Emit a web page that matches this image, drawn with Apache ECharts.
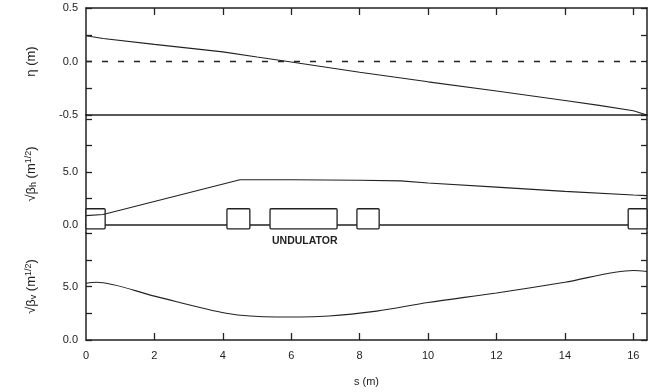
<!DOCTYPE html>
<html>
<head>
<meta charset="utf-8">
<script src="https://cdn.jsdelivr.net/npm/echarts@6/dist/echarts.min.js"></script>
<style>
  html, body { margin: 0; padding: 0; background: #fff; }
  #chart { width: 654px; height: 392px; }
</style>
</head>
<body>
<div id="chart"></div>
<script>
// dispersion eta (m)
const etaS = [0, 0.5, 2, 4, 5, 6, 8, 10, 12, 14, 15, 16, 16.4]
const etaV = [0.24, 0.215, 0.16, 0.09, 0.042, -0.005, -0.1, -0.19, -0.275, -0.365, -0.41, -0.46, -0.5]
// sqrt(beta_h)
const bhS = [0, 0.5, 4.5, 6, 8, 9.2, 10, 12, 14, 16, 16.4]
const bhV = [0.85, 0.95, 4.25, 4.25, 4.2, 4.15, 3.95, 3.55, 3.15, 2.8, 2.75]
// sqrt(beta_v)
const bvS = [0, 0.3, 2, 4.1, 5.6, 7.1, 8.5, 10, 12, 14, 16, 16.4]
const bvV = [5.3, 5.4, 4.1, 2.5, 2.15, 2.25, 2.7, 3.5, 4.4, 5.4, 6.5, 6.4]
// lattice elements (start, end in s) and box extent in the middle panel
const elemStart = [0, 4.12, 5.38, 7.92, 15.85]
const elemEnd = [0.56, 4.79, 7.34, 8.57, 16.4]
const boxLow = -0.4
const boxHigh = 1.5
// tick values
const etaTicks = [-0.5, -0.25, 0, 0.25, 0.5]
const etaLabels = [-0.5, 0, 0.5]
const betaTicks = [0, 2.5, 5, 7.5, 10]
const betaLabels = [0, 5]
const sLabels = [0, 2, 4, 6, 8, 10, 12, 14, 16]

const ink = '#222'
const font = 'Liberation Sans, Arial, sans-serif'
const pair = (xs, ys) => xs.map((x, i) => [x, ys[i]])

const rich = {
  n: { fontSize: 13, fontFamily: font, color: ink },
  sub: { fontSize: 9, fontFamily: font, color: ink, verticalAlign: 'bottom', padding: [5, 0, 0, 0] },
  sup: { fontSize: 9, fontFamily: font, color: ink, verticalAlign: 'top', padding: [0, 0, 5, 0] }
}

function yAx(grid, min, max, ticks, labels, name, left) {
  return {
    type: 'value', gridIndex: grid, min: min, max: max,
    position: left ? 'left' : 'right',
    name: left ? name : '', nameLocation: 'middle', nameGap: 48,
    nameTextStyle: { fontSize: 13, fontFamily: font, color: ink, rich: rich },
    axisLine: { show: true, onZero: false, lineStyle: { color: ink, width: 1.5 } },
    axisTick: { show: true, inside: true, length: 6, customValues: ticks, lineStyle: { color: ink, width: 1.3 } },
    axisLabel: { show: left, customValues: labels, margin: 8, fontSize: 11, fontFamily: font, color: ink,
      formatter: v => v.toFixed(1) },
    splitLine: { show: false }
  }
}

function xAx(grid, pos, opts) {
  return Object.assign({
    type: 'value', gridIndex: grid, min: 0, max: 16.4, position: pos,
    axisLine: { show: true, onZero: false, lineStyle: { color: ink, width: 1.5 } },
    axisTick: { show: false },
    axisLabel: { show: false },
    splitLine: { show: false }
  }, opts || {})
}

const chart = echarts.init(document.getElementById('chart'))
chart.setOption({
  animation: false,
  backgroundColor: '#fff',
  grid: [
    { left: 86, right: 7, top: 8, height: 107 },
    { left: 86, right: 7, top: 115, height: 118 },
    { left: 86, right: 7, top: 233, height: 107 }
  ],
  xAxis: [
    xAx(0, 'top', {
      axisTick: { show: true, inside: true, length: 7, customValues: sLabels.slice(1), lineStyle: { color: ink, width: 1.3 } }
    }),
    xAx(0, 'bottom'),
    xAx(1, 'bottom', { axisLine: { show: true, onZero: true, lineStyle: { color: ink, width: 1.5 } } }),
    xAx(2, 'bottom', {
      name: 's (m)', nameLocation: 'middle', nameGap: 36,
      nameTextStyle: { fontSize: 11, fontFamily: font, color: ink },
      axisTick: { show: true, inside: true, length: 7, customValues: sLabels.slice(1), lineStyle: { color: ink, width: 1.3 } },
      axisLabel: { show: true, customValues: sLabels, margin: 10, fontSize: 11, fontFamily: font, color: ink }
    })
  ],
  yAxis: [
    yAx(0, -0.5, 0.5, etaTicks, etaLabels, '{n|η (m)}', true),
    yAx(0, -0.5, 0.5, etaTicks, [], '', false),
    yAx(1, -0.8, 10.4, betaTicks, betaLabels, '{n|√β}{sub|h}{n| (m}{sup|1/2}{n|)}', true),
    yAx(1, -0.8, 10.4, betaTicks, [], '', false),
    yAx(2, 0, 10, betaTicks, betaLabels, '{n|√β}{sub|v}{n| (m}{sup|1/2}{n|)}', true),
    yAx(2, 0, 10, betaTicks, [], '', false)
  ],
  graphic: [{
    type: 'text', left: 272, top: 236,
    style: { text: 'UNDULATOR', fontSize: 10.5, fontWeight: 'bold', fontFamily: font, fill: ink }
  }],
  series: [
    {
      type: 'line', xAxisIndex: 0, yAxisIndex: 0, data: pair(etaS, etaV),
      showSymbol: false, lineStyle: { color: ink, width: 1.1 },
      markLine: {
        silent: true, symbol: 'none', label: { show: false },
        lineStyle: { color: ink, width: 1.3, type: [6, 10] },
        data: [{ yAxis: 0 }]
      }
    },
    {
      type: 'custom', xAxisIndex: 2, yAxisIndex: 2,
      data: elemStart.map((s, i) => [s, elemEnd[i], boxLow, boxHigh]),
      encode: { x: [0, 1], y: [2, 3] },
      renderItem: function (params, api) {
        const p0 = api.coord([api.value(0), api.value(3)])
        const p1 = api.coord([api.value(1), api.value(2)])
        return {
          type: 'rect',
          shape: { x: p0[0], y: p0[1], width: p1[0] - p0[0], height: p1[1] - p0[1], r: 1 },
          style: { fill: '#fff', stroke: ink, lineWidth: 1.3 }
        }
      },
      z: 3
    },
    {
      type: 'line', xAxisIndex: 2, yAxisIndex: 2, data: pair(bhS, bhV),
      showSymbol: false, lineStyle: { color: ink, width: 1.1 }, z: 4
    },
    {
      type: 'line', xAxisIndex: 3, yAxisIndex: 4, data: pair(bvS, bvV),
      showSymbol: false, smooth: 0.3, lineStyle: { color: ink, width: 1.1 }
    }
  ]
})
</script>
</body>
</html>
